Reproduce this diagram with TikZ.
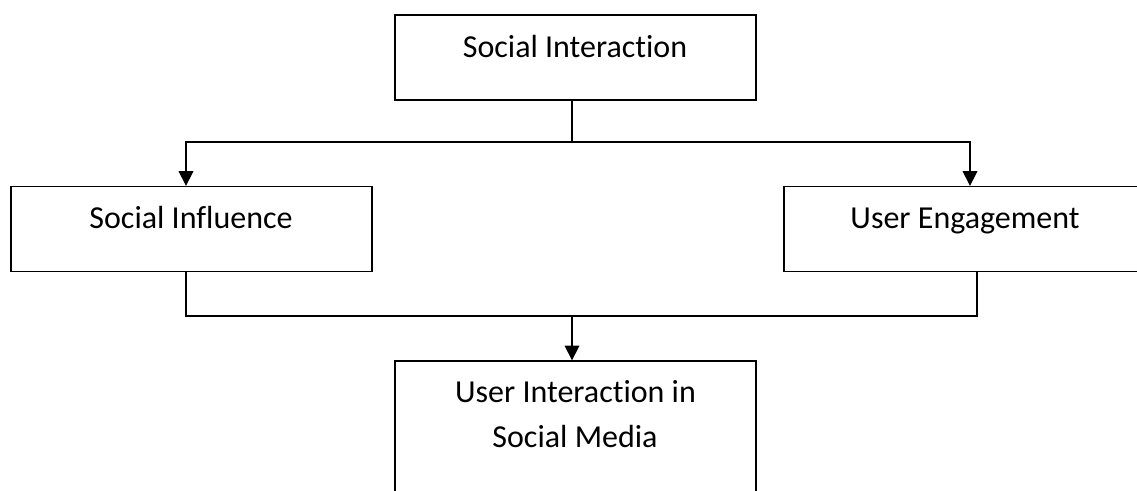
\documentclass[tikz,border=0pt]{standalone}
\usepackage{fontspec}
\setmainfont[Ligatures={NoCommon}]{Carlito}
\usetikzlibrary{arrows.meta}
\begin{document}
\begin{tikzpicture}[x=0.75pt,y=-0.75pt,
  box/.style={draw=black,line width=1pt,rectangle,inner sep=0pt,minimum width=270.75pt},
  lbl/.style={font=\fontsize{24}{30}\selectfont,anchor=base,inner sep=0pt},
  conn/.style={draw=black,line width=1pt},
  arr/.style={conn,-{Triangle[length=11pt,width=11pt]}}]
\useasboundingbox (0,0) rectangle (1137,490);
\clip (0,0) rectangle (1137,490);
\node[box,minimum height=63.75pt] (top) at (575.5,57.5) {};
\node[box,minimum height=63.75pt] (left) at (191.5,229) {};
\node[box,minimum height=63.75pt] (right) at (964.5,229) {};
\node[box,minimum height=112.5pt] (bot) at (575.5,436) {};
\node[lbl] (toptxt) at (575,57) {Social Interaction};
\node[lbl] (lefttxt) at (191,228) {Social Influence};
\node[lbl] (righttxt) at (965,228) {User Engagement};
\node[lbl] (bottxt1) at (575.5,402) {User Interaction in};
\node[lbl] (bottxt2) at (575,447) {Social Media};
\coordinate (j1) at (572,142);
\coordinate (la) at (186,0);
\coordinate (ra) at (970,0);
\coordinate (j2) at (572,316);
\coordinate (lb) at (186,0);
\coordinate (rb) at (977,0);
\draw[arr] (j1 |- top.south) -- (j1) -- (la |- j1) -- (la |- left.north);
\draw[arr] (j1) -- (ra |- j1) -- (ra |- right.north);
\draw[conn] (lb |- left.south) -- (lb |- j2) -- (rb |- j2) -- (rb |- right.south);
\draw[arr] (j2) -- (j2 |- bot.north);
\end{tikzpicture}
\end{document}
